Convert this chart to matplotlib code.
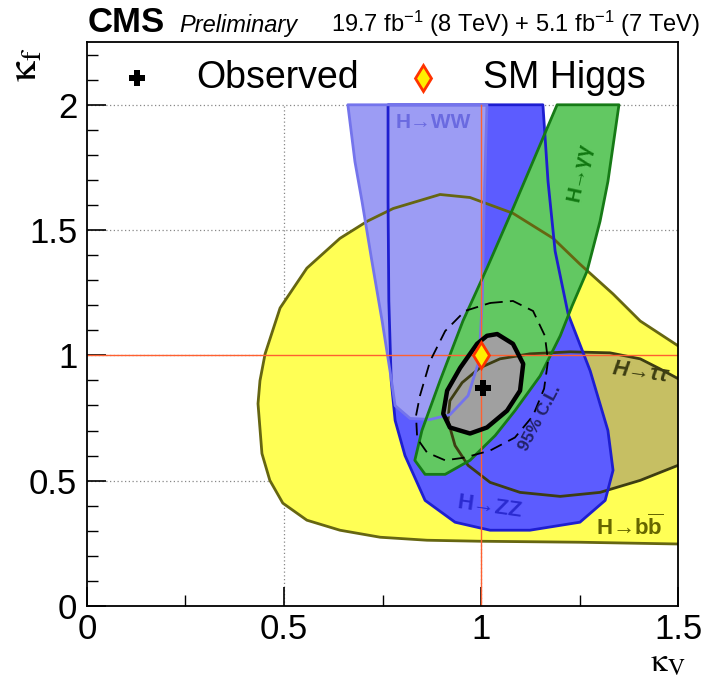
import numpy as np
import matplotlib
matplotlib.use("Agg")
import matplotlib.pyplot as plt
from matplotlib.patches import Polygon
from matplotlib.ticker import MultipleLocator

plt.rcParams['font.family'] = ['Liberation Sans', 'DejaVu Sans']
plt.rcParams['mathtext.fontset'] = 'custom'
plt.rcParams['mathtext.rm'] = 'Liberation Sans'
plt.rcParams['mathtext.it'] = 'Liberation Sans:italic'
plt.rcParams['mathtext.bf'] = 'Liberation Sans:bold'

# 68% CL contours per decay channel (kappa_V, kappa_f)
bb_kv = [1.556, 1.5, 1.251, 0.997, 0.863, 0.744, 0.642, 0.558, 0.497, 0.464, 0.444, 0.434,
         0.439, 0.452, 0.490, 0.558, 0.642, 0.711, 0.777, 0.896, 0.972, 1.081, 1.183, 1.251,
         1.335, 1.404, 1.5, 1.556]
bb_kf = [0.247, 0.247, 0.254, 0.258, 0.262, 0.274, 0.302, 0.342, 0.410, 0.501, 0.608, 0.807,
         0.899, 1.006, 1.189, 1.348, 1.467, 1.535, 1.586, 1.642, 1.630, 1.567, 1.467, 1.364,
         1.245, 1.137, 1.038, 0.986]

tt_kv = [1.556, 1.5, 1.454, 1.404, 1.327, 1.226, 1.124, 1.048, 0.997, 0.952, 0.921, 0.916,
         0.934, 0.967, 1.023, 1.099, 1.201, 1.302, 1.404, 1.5, 1.556]
tt_kf = [0.879, 0.907, 0.946, 0.986, 1.010, 1.014, 1.006, 0.986, 0.950, 0.891, 0.819, 0.740,
         0.640, 0.561, 0.493, 0.453, 0.437, 0.453, 0.501, 0.561, 0.600]

zz_kv = [0.764, 0.764, 0.766, 0.772, 0.782, 0.807, 0.858, 0.934, 1.023, 1.124, 1.251, 1.315,
         1.335, 1.322, 1.277, 1.221, 1.188, 1.170, 1.157]
zz_kf = [2.0, 1.614, 1.217, 0.899, 0.740, 0.600, 0.421, 0.334, 0.302, 0.302, 0.334, 0.421,
         0.541, 0.700, 0.938, 1.165, 1.416, 1.694, 2.0]

ww_kv = [0.662, 0.680, 0.698, 0.723, 0.749, 0.769, 0.782, 0.820, 0.871, 0.921, 0.967, 0.995,
         1.003, 1.008, 1.015]
ww_kf = [2.0, 1.773, 1.614, 1.376, 1.137, 0.938, 0.799, 0.748, 0.744, 0.763, 0.839, 0.978,
         1.217, 1.614, 2.0]

gg_kv = [1.193, 1.137, 1.081, 1.015, 0.954, 0.896, 0.850, 0.832, 0.858, 0.909, 0.972, 1.036,
         1.086, 1.150, 1.201, 1.231, 1.269, 1.302, 1.322, 1.350]
gg_kf = [2.0, 1.793, 1.586, 1.348, 1.137, 0.899, 0.700, 0.581, 0.525, 0.525, 0.581, 0.680,
         0.779, 0.918, 1.078, 1.197, 1.336, 1.535, 1.694, 2.0]

# combined 68% and 95% CL
c68_kv = [1.041, 1.081, 1.107, 1.099, 1.066, 1.015, 0.972, 0.921, 0.904, 0.914, 0.947, 0.990, 1.015]
c68_kf = [1.085, 1.046, 0.966, 0.859, 0.779, 0.712, 0.688, 0.712, 0.767, 0.859, 0.950, 1.046, 1.078]

c95_kv = [1.023, 1.081, 1.132, 1.162, 1.170, 1.160, 1.132, 1.086, 1.023, 0.959, 0.909, 0.863,
          0.838, 0.835, 0.845, 0.871, 0.909, 0.959]
c95_kf = [1.209, 1.217, 1.177, 1.078, 0.978, 0.867, 0.759, 0.672, 0.620, 0.592, 0.581, 0.612,
          0.668, 0.759, 0.839, 0.978, 1.097, 1.177]

best_kv, best_kf = 1.005, 0.87
sm_kv, sm_kf = 1.0, 1.0

xticks = [0, 0.5, 1, 1.5]
yticks = [0, 0.5, 1, 1.5, 2]

fig = plt.figure(figsize=(7.13, 6.8), dpi=100)
ax = fig.add_axes([0.122, 0.109, 0.829, 0.829])
ax.set_xlim(0, 1.5)
ax.set_ylim(0, 2.25)

# dotted grid, only up to the scan range
for g in [0.5, 1.0]:
    ax.plot([g, g], [0, 2.0], ls=(0, (1, 2)), color='#888888', lw=0.9, zorder=0)
for g in [0.5, 1.0, 1.5, 2.0]:
    ax.plot([0, 1.5], [g, g], ls=(0, (1, 2)), color='#888888', lw=0.9, zorder=0)

regions = [
    (bb_kv, bb_kf, '#ffff55', '#666611'),
    (tt_kv, tt_kf, '#c6bf63', '#3d3d12'),
    (zz_kv, zz_kf, '#5c5cff', '#1e1ed0'),
    (ww_kv, ww_kf, '#9c9cf4', '#7474ec'),
    (gg_kv, gg_kf, '#62c862', '#167a16'),
]
for i, (kv, kf, fc, ec) in enumerate(regions):
    ax.add_patch(Polygon(np.column_stack([kv, kf]), closed=True, facecolor=fc,
                         edgecolor='none', zorder=1 + i))
ax.add_patch(Polygon(np.column_stack([c68_kv, c68_kf]), closed=True, facecolor='#a0a0a0',
                     edgecolor='none', zorder=6))
for i, (kv, kf, fc, ec) in enumerate(regions):
    ax.add_patch(Polygon(np.column_stack([kv, kf]), closed=True, facecolor='none',
                         edgecolor=ec, lw=2.0, joinstyle='round', zorder=7))

# SM reference lines
ax.plot([0, 1.5], [1, 1], color='#ff6030', lw=1.0, zorder=8)
ax.plot([1, 1], [0, 2.0], color='#ff6030', lw=1.0, zorder=8)

ax.add_patch(Polygon(np.column_stack([c95_kv, c95_kf]), closed=True, facecolor='none',
                     edgecolor='black', lw=1.3, ls=(0, (7, 4)), zorder=9))
ax.add_patch(Polygon(np.column_stack([c68_kv, c68_kf]), closed=True, facecolor='none',
                     edgecolor='black', lw=3.2, joinstyle='round', zorder=9))

ax.plot(best_kv, best_kf, marker='P', color='black', ms=11, mew=0, zorder=11)
ax.plot(sm_kv, sm_kf, marker='d', ms=13, mfc='#ffee00', mec='#ff3300', mew=2, zorder=11)

# channel labels
ax.text(0.878, 1.93, 'H→WW', color='#6a6ae0', fontsize=15, fontweight='bold',
        ha='center', va='center', zorder=12)
ax.text(1.251, 1.733, 'H→γγ', color='#117711', fontsize=15, fontweight='bold',
        ha='center', va='center', rotation=78, zorder=12)
ax.text(1.404, 0.93, 'H→ττ', color='#3d3d12', fontsize=16, fontweight='bold',
        fontstyle='italic', ha='center', va='center', rotation=-8, zorder=12)
ax.text(1.023, 0.394, 'H→ZZ', color='#2a2ad0', fontsize=16, fontweight='bold',
        ha='center', va='center', rotation=-8, zorder=12)
ax.text(1.378, 0.314, r'H→b$\overline{\mathbf{b}}$', color='#666600', fontsize=16,
        fontweight='bold', ha='center', va='center', zorder=12)
ax.text(1.15, 0.75, '95% C.L.', color='#222266', fontsize=12.5, fontweight='bold',
        ha='center', va='center', rotation=62, zorder=12)

# legend row
ax.plot(0.127, 2.107, marker='P', color='black', ms=11, mew=0, zorder=12)
ax.text(0.277, 2.107, 'Observed', fontsize=27, ha='left', va='center', zorder=12)
ax.plot(0.853, 2.107, marker='d', ms=13, mfc='#ffee00', mec='#ff3300', mew=2, zorder=12)
ax.text(1.005, 2.107, 'SM Higgs', fontsize=27, ha='left', va='center', zorder=12)

# axes styling
ax.set_xticks(xticks)
ax.set_yticks(yticks)
ax.set_xticklabels([f'{t:g}' for t in xticks])
ax.set_yticklabels([f'{t:g}' for t in yticks])
ax.xaxis.set_minor_locator(MultipleLocator(0.25))
ax.yaxis.set_minor_locator(MultipleLocator(0.1))
ax.tick_params(which='both', direction='in', top=False, right=False, labelsize=25)
ax.tick_params(axis='x', which='major', pad=5)
ax.tick_params(axis='y', which='major', pad=7)
ax.tick_params(which='major', length=14, width=1.2)
ax.tick_params(which='minor', length=8, width=1.0)
for s in ax.spines.values():
    s.set_linewidth(1.3)
    s.set_zorder(15)

fig.text(0.035, 0.93, r'$\mathrm{\kappa}_{\mathrm{f}}$', fontsize=30, rotation=90,
         ha='center', va='top', math_fontfamily='stix')
fig.text(0.962, 0.002, r'$\mathrm{\kappa}_{\mathrm{V}}$', fontsize=24,
         ha='right', va='bottom', math_fontfamily='stix')

fig.text(0.123, 0.953, 'CMS', fontsize=25, fontweight='bold', ha='left', va='baseline')
fig.text(0.252, 0.953, 'Preliminary', fontsize=17, fontstyle='italic', ha='left', va='baseline')
fig.text(0.982, 0.953, r'19.7 fb$^{-1}$ (8 TeV) + 5.1 fb$^{-1}$ (7 TeV)', fontsize=17,
         ha='right', va='baseline')

fig.savefig('out.png', dpi=100)
